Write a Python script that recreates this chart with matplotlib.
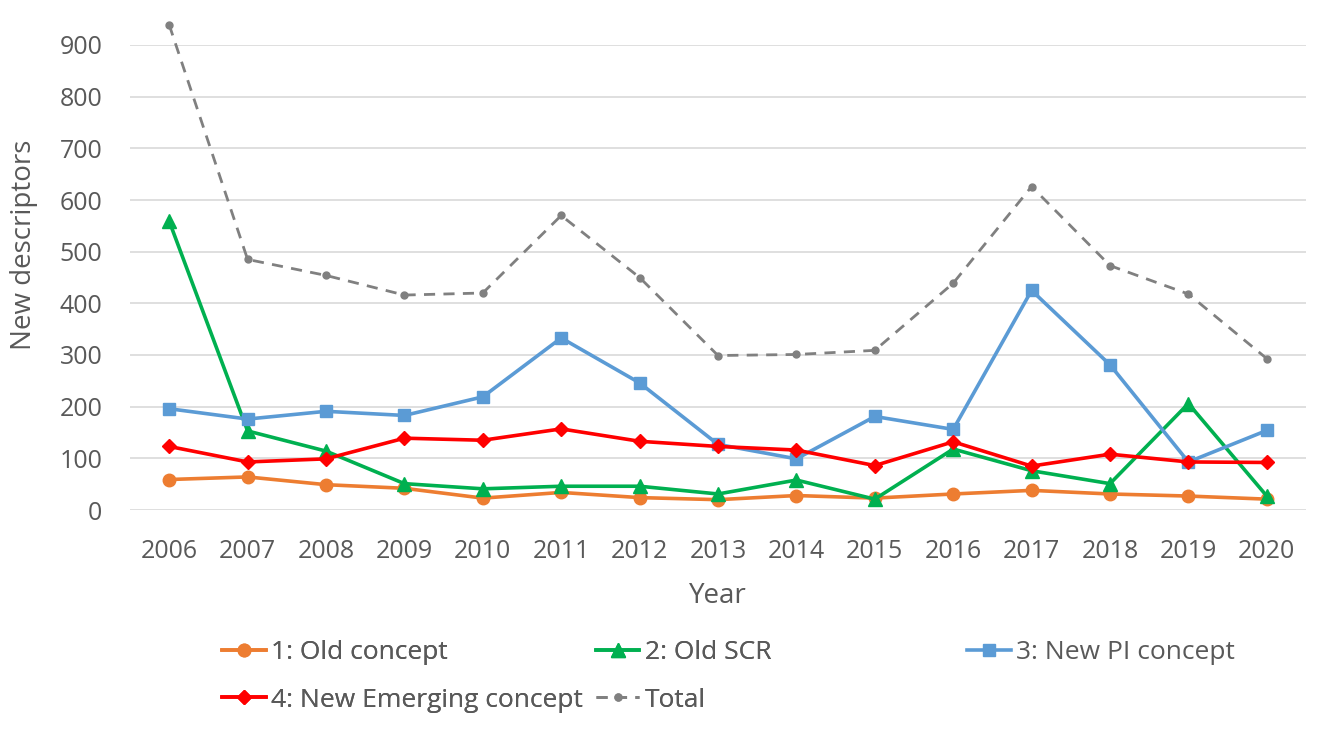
import numpy as np
import matplotlib.pyplot as plt

years = [str(y) for y in range(2006, 2021)]

old_concept = [59, 64, 49, 42, 23, 34, 24, 20, 28, 23, 31, 38, 31, 27, 21]
old_scr = [559, 153, 114, 51, 41, 46, 46, 31, 58, 21, 118, 76, 51, 206, 27]
new_pi = [196, 176, 191, 183, 219, 333, 246, 127, 99, 181, 156, 425, 281, 93, 154]
new_emerging = [123, 93, 99, 139, 135, 157, 133, 123, 116, 86, 132, 85, 108, 93, 92]
total = [939, 485, 454, 416, 420, 570, 450, 299, 301, 309, 439, 626, 473, 418, 293]

plt.rcParams['font.family'] = ['Open Sans', 'DejaVu Sans']
text_grey = '#595959'

fig = plt.figure(figsize=(13.2, 7.3), dpi=100)
ax = fig.add_axes([130 / 1320, 1 - 510 / 730, 1176 / 1320, 465 / 730])

x = np.arange(len(years))

l1, = ax.plot(x, old_concept, color='#ED7D31', lw=2.6, marker='o', ms=9,
              label='1: Old concept', clip_on=False, zorder=3)
l2, = ax.plot(x, old_scr, color='#00B050', lw=2.6, marker='^', ms=10,
              label='2: Old SCR', clip_on=False, zorder=3)
l3, = ax.plot(x, new_pi, color='#5B9BD5', lw=2.6, marker='s', ms=9,
              label='3: New PI concept', clip_on=False, zorder=3)
l4, = ax.plot(x, new_emerging, color='#FF0000', lw=2.6, marker='D', ms=7.5,
              label='4: New Emerging concept', clip_on=False, zorder=4)
l5, = ax.plot(x, total, color='#808080', lw=2.0, ls=(0, (4, 3)), marker='o', ms=5,
              label='Total', clip_on=False, zorder=3)

ax.set_xlim(-0.5, len(years) - 0.5)
ax.set_ylim(0, 900)
ax.set_yticks(np.arange(0, 901, 100))
ax.set_xticks(x)
ax.set_xticklabels(years)

for s in ax.spines.values():
    s.set_visible(False)
ax.grid(axis='y', color='#D9D9D9', lw=1.2)
ax.set_axisbelow(True)
ax.tick_params(axis='both', length=0, labelsize=18, labelcolor=text_grey)
ax.tick_params(axis='y', pad=20)
ax.tick_params(axis='x', pad=21)

ax.set_xlabel('Year', fontsize=20, color=text_grey, labelpad=13)
ax.set_ylabel('New descriptors', fontsize=20, color=text_grey)
# Excel puts the axis title a bit above the plot centre
ax.yaxis.set_label_coords((38 - 130) / 1176, 0.57)

leg_kw = dict(frameon=False, fontsize=19, handlelength=1.65, handletextpad=0.2,
              borderpad=0, borderaxespad=0, labelcolor=text_grey, labelspacing=0.86)
leg_a = fig.legend([l1, l4, l2, l5],
                   ['1: Old concept', '4: New Emerging concept', '2: Old SCR', 'Total'],
                   ncol=2, columnspacing=0.5, loc='upper left',
                   bbox_to_anchor=(222 / 1320, 1 - 640 / 730), **leg_kw)
leg_b = fig.legend([l3], ['3: New PI concept'], loc='upper left',
                   bbox_to_anchor=(967 / 1320, 1 - 640 / 730), **leg_kw)
fig.add_artist(leg_a)

fig.savefig('out.png', dpi=100)
